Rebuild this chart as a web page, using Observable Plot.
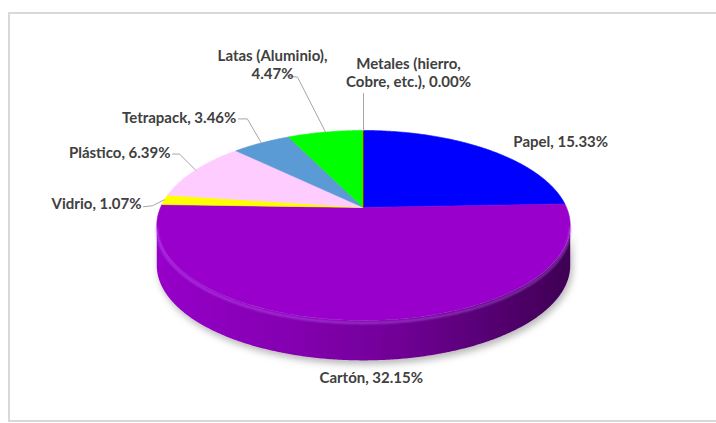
<!DOCTYPE html>
<html>
<head>
<meta charset="utf-8">
<script src="https://cdn.jsdelivr.net/npm/d3@7"></script>
<script src="https://cdn.jsdelivr.net/npm/@observablehq/plot@0.6"></script>
<style>
  body { margin: 0; background: #fff; }
  #wrap { position: relative; width: 716px; height: 423px; overflow: hidden; background: #fff; }
  #chart { position: absolute; left: 0; top: 0; }
  #border { position: absolute; left: 8px; top: 12px; width: 740px; height: 406px;
            border: 2px solid #d9d9d9; pointer-events: none; }
</style>
</head>
<body>
<div id="wrap"><div id="chart"></div><div id="border"></div></div>
<script>
// ---------- data ----------
const categories = ["Papel", "Cartón", "Vidrio", "Plástico", "Tetrapack", "Latas (Aluminio)", "Metales (hierro, Cobre, etc.)"];
const values = [15.33, 32.15, 1.07, 6.39, 3.46, 4.47, 0.00];
const labelTexts = ["Papel, 15.33%", "Cartón, 32.15%", "Vidrio, 1.07%", "Plástico, 6.39%",
                    "Tetrapack, 3.46%", "Latas (Aluminio),\n4.47%", "Metales (hierro,\nCobre, etc.), 0.00%"];
const colors = ["#0000ff", "#9900cc", "#ffff00", "#ffccff", "#5b9bd5", "#00ff00", "#c00000"];

// ---------- layout (pixel nudges of labels / leader lines from the slice's rim point) ----------
const labelAnchor = ["start", "middle", "end", "end", "end", "middle", "middle"];
const labelNudge = [[26, -8], [7, 57], [-23, 3], [-25, -18], [-25, -26], [-53, -68], [45, -58]];
const leaderNudge = [null, null, [[-12, 6], [-21, 7]], [[-16, -16], [-23, -16]],
                     [[-14, -24], [-23, -24]], [[-28, -55], [-38, -56]], [[0, -37]]];

// ---------- geometry ----------
const W = 716, H = 423;
const CX = 363, CY = 207, R = 203;          // apex position & pixels per unit
const ASPECT = 0.451, PERSP = -0.189;        // tilt and perspective
const DEPTH = 40 / R;                        // pie thickness

function proj(theta, r = 1, z = 0) {
  const u = r * Math.sin(theta), v = -r * Math.cos(theta);
  const d = 1 + PERSP * v;
  return { x: u / d, y: ASPECT * v / d + z };
}
function arcPts(a, b, z = 0) {
  const n = Math.max(2, Math.ceil(Math.abs(b - a) / (Math.PI / 360)));
  return d3.range(n + 1).map(i => proj(a + (b - a) * i / n, 1, z));
}

const data = categories.map((c, i) => ({ name: c, value: values[i], label: labelTexts[i], i }));
const arcs = d3.pie().sort(null).value(d => d.value)(data);

// top faces
const topPts = arcs.flatMap(a => [{ x: 0, y: 0 }, ...arcPts(a.startAngle, a.endAngle), { x: 0, y: 0 }]
  .map(p => ({ ...p, name: a.data.name })));

// side faces (only visible front part)
const thW = Math.acos(PERSP);
const sides = arcs.map(a => {
  const s = Math.max(a.startAngle, thW), e = Math.min(a.endAngle, 2 * Math.PI - thW);
  if (e <= s) return null;
  return { i: a.data.i, name: a.data.name, pts: [...arcPts(s, e, 0), ...arcPts(e, s, DEPTH)] };
}).filter(Boolean);
const rim = arcPts(thW, 2 * Math.PI - thW, 2.5 / R);

// labels and leaders
const rimPoint = arcs.map(a => proj((a.startAngle + a.endAngle) / 2));
const labels = arcs.map((a, i) => ({
  x: rimPoint[i].x + labelNudge[i][0] / R,
  y: rimPoint[i].y + labelNudge[i][1] / R,
  text: a.data.label, anchor: labelAnchor[i]
}));
const leaders = arcs.flatMap((a, i) => leaderNudge[i] ? [rimPoint[i], ...leaderNudge[i].map(([dx, dy]) =>
  ({ x: rimPoint[i].x + dx / R, y: rimPoint[i].y + dy / R }))].map(p => ({ ...p, k: i })) : []);

const textStyle = { fontFamily: "Lato, 'Open Sans', sans-serif", fontSize: 15, fontWeight: "bold",
                    fill: "#404040", lineHeight: 1.2 };

const plot = Plot.plot({
  width: W, height: H, margin: 0,
  style: { background: "transparent" },
  x: { domain: [-CX / R, (W - CX) / R], range: [0, W], axis: null },
  y: { domain: [-CY / R, (H - CY) / R], range: [0, H], axis: null },
  color: { domain: categories, range: colors },
  marks: [
    ...sides.map(s => Plot.line(s.pts, { x: "x", y: "y", fill: colors[s.i], stroke: "none" })),
    Plot.line(topPts, { x: "x", y: "y", z: "name", fill: "name", stroke: "name", strokeWidth: 0.6 }),
    Plot.line(rim, { x: "x", y: "y", stroke: "#c46bff", strokeOpacity: 0.55, strokeWidth: 2 }),
    Plot.line(leaders, { x: "x", y: "y", z: "k", stroke: "#a6a6a6", strokeWidth: 1 }),
    ...["start", "middle", "end"].map(anchor =>
      Plot.text(labels.filter(d => d.anchor === anchor), { x: "x", y: "y", text: "text", textAnchor: anchor, ...textStyle }))
  ]
});

// gradients & soft shadow (post-styling of the rendered marks, in mark order)
const svg = d3.select(plot);
const defs = svg.insert("defs", ":first-child");
const f = defs.append("filter").attr("id", "shadow").attr("x", "-10%").attr("y", "-20%")
  .attr("width", "130%").attr("height", "160%");
f.append("feDropShadow").attr("dx", 2).attr("dy", 4).attr("stdDeviation", 3.5)
  .attr("flood-color", "#000").attr("flood-opacity", 0.28);
const rb = defs.append("filter").attr("id", "soft");
rb.append("feGaussianBlur").attr("stdDeviation", 0.8);
colors.forEach((c, i) => {
  const g = defs.append("linearGradient").attr("id", `side-grad-${i}`).attr("gradientUnits", "userSpaceOnUse")
    .attr("x1", CX - R).attr("x2", CX + R).attr("y1", 0).attr("y2", 0);
  [[0, 0.05], [0.35, 0.45], [0.6, 0.9], [1, 2.5]].forEach(([o, k]) =>
    g.append("stop").attr("offset", o).attr("stop-color", d3.color(c).darker(k).formatHex()));
});
const lineGroups = svg.selectAll(":scope > g[aria-label='line']").nodes();
sides.forEach((s, k) => {
  const g = d3.select(lineGroups[k]).attr("filter", "url(#shadow)").attr("fill", `url(#side-grad-${s.i})`);
  g.selectAll("path").attr("fill", `url(#side-grad-${s.i})`);
});
d3.select(lineGroups[sides.length + 1]).attr("filter", "url(#soft)");

document.getElementById("chart").appendChild(plot);
</script>
</body>
</html>
